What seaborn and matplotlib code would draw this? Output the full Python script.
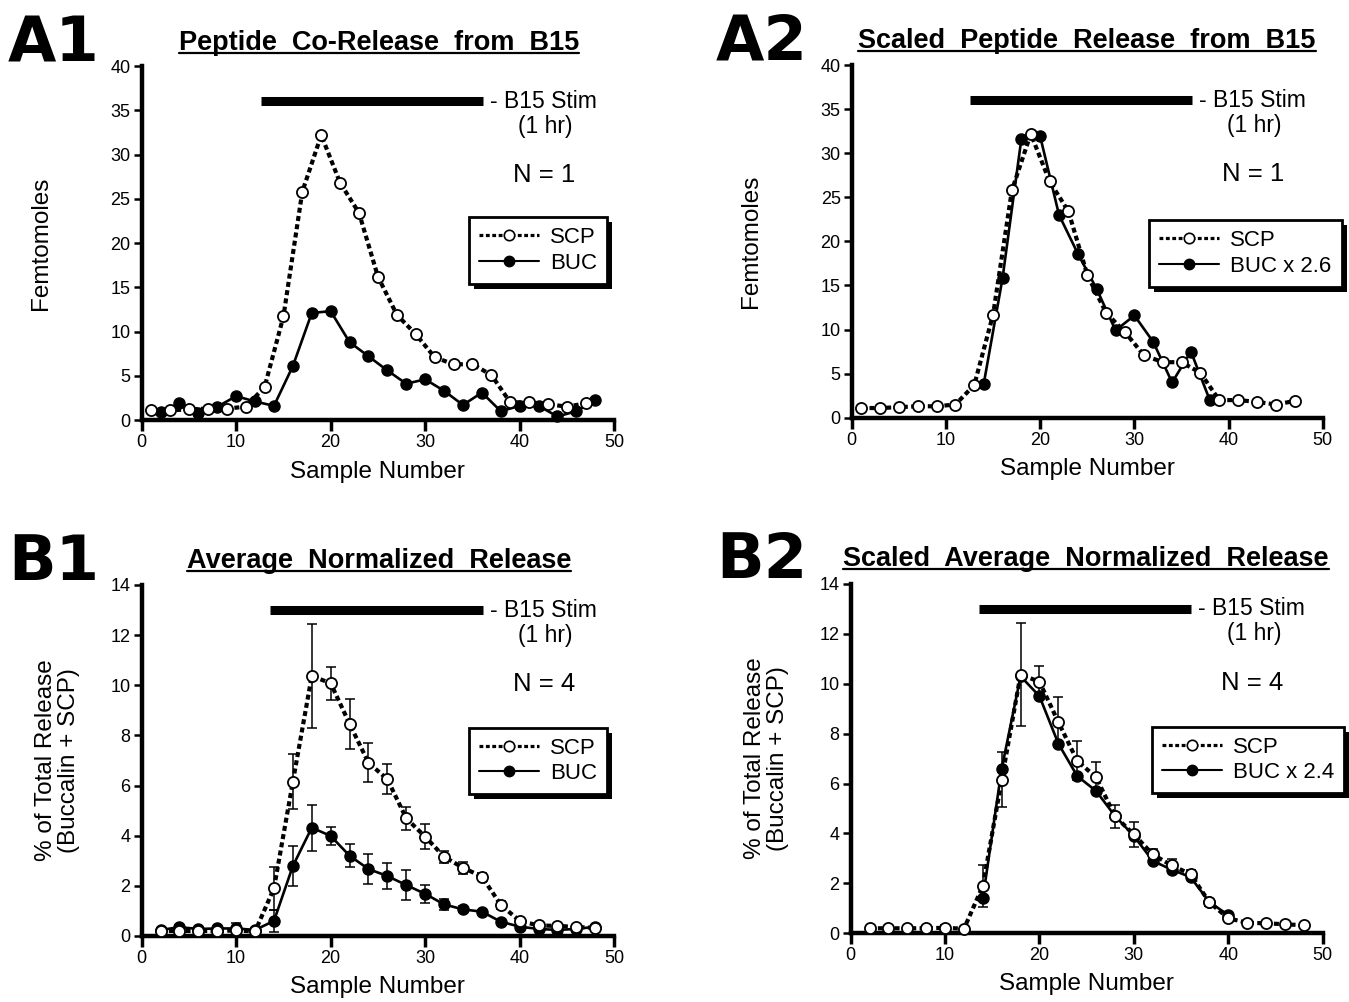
import matplotlib
matplotlib.use("Agg")
import matplotlib.pyplot as plt
import seaborn as sns
from matplotlib.lines import Line2D
from matplotlib.patches import Rectangle
from matplotlib.transforms import IdentityTransform

# ---- data ----
# panel A: single experiment, SCP on odd samples, BUC on even samples
a_scp_x = [1, 3, 5, 7, 9, 11, 13, 15, 17, 19, 21, 23, 25, 27, 29, 31, 33, 35, 37, 39, 41, 43, 45, 47]
a_scp_y = [1.1, 1.1, 1.2, 1.3, 1.3, 1.5, 3.7, 11.7, 25.8, 32.2, 26.8, 23.4, 16.2, 11.9, 9.7, 7.1,
           6.3, 6.3, 5.1, 2.0, 2.0, 1.8, 1.5, 1.9]
a_buc_x = [2, 4, 6, 8, 10, 12, 14, 16, 18, 20, 22, 24, 26, 28, 30, 32, 34, 36, 38, 40, 42, 44, 46, 48]
a_buc_y = [0.9, 1.9, 0.75, 1.5, 2.7, 2.1, 1.6, 6.1, 12.1, 12.3, 8.8, 7.2, 5.6, 4.1, 4.6, 3.3,
           1.7, 3.1, 1.0, 1.6, 1.6, 0.4, 1.0, 2.3]
a2_buc_x = [14, 16, 18, 20, 22, 24, 26, 28, 30, 32, 34, 36, 38]
a2_buc_y = [3.8, 15.8, 31.6, 31.9, 23.0, 18.6, 14.6, 9.9, 11.6, 8.6, 4.0, 7.5, 2.0]

# panel B: average of 4, mean +/- sem
b_x = [2, 4, 6, 8, 10, 12, 14, 16, 18, 20, 22, 24, 26, 28, 30, 32, 34, 36, 38, 40, 42, 44, 46, 48]
b_scp_y = [0.2, 0.2, 0.2, 0.2, 0.22, 0.18, 1.9, 6.15, 10.37, 10.08, 8.46, 6.91, 6.25, 4.69, 3.96,
           3.16, 2.72, 2.37, 1.24, 0.6, 0.42, 0.4, 0.36, 0.32]
b_scp_err = [0.05, 0.05, 0.05, 0.05, 0.1, 0.05, 0.85, 1.1, 2.08, 0.65, 1.0, 0.78, 0.6, 0.47, 0.5,
             0.23, 0.25, 0.15, 0.15, 0.1, 0.05, 0.05, 0.05, 0.05]
b_buc_y = [0.24, 0.35, 0.28, 0.3, 0.3, 0.24, 0.6, 2.79, 4.32, 3.99, 3.2, 2.67, 2.39, 2.03, 1.68,
           1.26, 1.06, 0.97, 0.57, 0.37, 0.28, 0.24, 0.28, 0.37]
b_buc_err = [0.05, 0.1, 0.05, 0.05, 0.2, 0.05, 0.45, 0.8, 0.92, 0.37, 0.46, 0.6, 0.53, 0.6, 0.37,
             0.22, 0.12, 0.08, 0.08, 0.05, 0.03, 0.03, 0.03, 0.03]
b2_buc_x = [14, 16, 18, 20, 22, 24, 26, 28, 30, 32, 34, 36, 38, 40]
b2_buc_y = [1.4, 6.6, 10.3, 9.5, 7.6, 6.3, 5.7, 4.7, 3.9, 2.9, 2.55, 2.25, 1.25, 0.73]

# stimulation bars (sample range, height)
stim_a = [12.6, 36.1]
stim_a_y = 36.0
stim_b = [13.6, 36.1]
stim_b_y = 13.0

sns.set_theme(style="ticks")
plt.rcParams["font.family"] = ["Liberation Sans", "DejaVu Sans"]
plt.rcParams["text.color"] = "black"
plt.rcParams["axes.labelcolor"] = "black"
plt.rcParams["xtick.color"] = "black"
plt.rcParams["ytick.color"] = "black"

fig = plt.figure(figsize=(13.49, 10.02), dpi=100)

SCP_LS = (0, (1.2, 0.8))


def scp_handle():
    return Line2D([], [], color="black", lw=2.3, ls=SCP_LS, marker="o", ms=7.5,
                  mfc="white", mec="black", mew=1.2)


def buc_handle():
    return Line2D([], [], color="black", lw=1.5, marker="o", ms=7.5,
                  mfc="black", mec="black")


def setup_axes(rect, ymax, ystep, ylabel):
    ax = fig.add_axes(rect)
    ax.set_facecolor("none")
    ax.set_xlim(0, 50)
    ax.set_ylim(0, ymax)
    ax.set_xticks([0, 10, 20, 30, 40, 50])
    ax.set_yticks(list(range(0, ymax + 1, ystep)))
    sns.despine(ax=ax)
    for s in ["left", "bottom"]:
        ax.spines[s].set_linewidth(3.2)
        ax.spines[s].set_color("black")
    ax.tick_params(axis="x", length=8, width=2.5, labelsize=13, pad=2)
    ax.tick_params(axis="y", length=6, width=1.8, labelsize=13, pad=2)
    ax.set_xlabel("Sample Number", fontsize=17.5)
    ax.xaxis.set_label_coords(0.5, -0.115)
    ax.set_ylabel(ylabel, fontsize=17.5, linespacing=1.05)
    return ax


def draw_series(ax, x, y, scp=True, err=None):
    if err is not None:
        ax.errorbar(x, y, yerr=err, fmt="none", ecolor="black", elinewidth=1.1,
                    capsize=3.5, capthick=1.1, zorder=1, clip_on=False)
    if scp:
        sns.lineplot(x=x, y=y, ax=ax, color="black", lw=3, ls=SCP_LS, marker="o", ms=8,
                     mfc="white", mec="black", mew=1.3, zorder=4, clip_on=False,
                     errorbar=None, legend=False)
    else:
        sns.lineplot(x=x, y=y, ax=ax, color="black", lw=1.9, marker="o", ms=8,
                     mfc="black", mec="black", mew=1.0, zorder=3, clip_on=False,
                     errorbar=None, legend=False)


def stim_and_text(ax, stim, stim_y, n_text):
    ax.plot(stim, [stim_y, stim_y], color="black", lw=6.5, solid_capstyle="butt", zorder=2)
    ax.annotate("- B15 Stim", xy=(stim[1], stim_y), xytext=(5, 0), textcoords="offset points",
                ha="left", va="center", fontsize=16.5)
    ax.annotate("(1 hr)", xy=(stim[1], stim_y), xytext=(45, -18), textcoords="offset points",
                ha="center", va="center", fontsize=16.5)
    ax.annotate(n_text, xy=(stim[1], stim_y), xytext=(44, -53), textcoords="offset points",
                ha="center", va="center", fontsize=18.5)


def add_legend(ax, labels, anchor):
    leg = ax.legend([scp_handle(), buc_handle()], labels, loc="upper right",
                    bbox_to_anchor=anchor, frameon=True, fancybox=False, framealpha=1,
                    edgecolor="black", fontsize=16, handlelength=2.7, handletextpad=0.5,
                    borderpad=0.45, labelspacing=0.2, borderaxespad=0)
    leg.get_frame().set_linewidth(2)
    leg.set_zorder(6)
    return leg


ax_a1 = setup_axes([0.105, 0.5808, 0.3503, 0.3533], 40, 5, "Femtomoles")
ax_a2 = setup_axes([0.6314, 0.5831, 0.3492, 0.3520], 40, 5, "Femtomoles")
ax_b1 = setup_axes([0.105, 0.0659, 0.3503, 0.3503], 14, 2, "% of Total Release\n(Buccalin + SCP)")
ax_b2 = setup_axes([0.6306, 0.0686, 0.3499, 0.3486], 14, 2, "% of Total Release\n(Buccalin + SCP)")

ax_a1.yaxis.set_label_coords(-0.19, 0.5)
ax_a2.yaxis.set_label_coords(-0.19, 0.5)
ax_b1.yaxis.set_label_coords(-0.13, 0.5)
ax_b2.yaxis.set_label_coords(-0.13, 0.5)

# A1
draw_series(ax_a1, a_buc_x, a_buc_y, scp=False)
draw_series(ax_a1, a_scp_x, a_scp_y, scp=True)
stim_and_text(ax_a1, stim_a, stim_a_y, "N = 1")
legs = [add_legend(ax_a1, ["SCP", "BUC"], (0.985, 0.573))]

# A2
draw_series(ax_a2, a2_buc_x, a2_buc_y, scp=False)
draw_series(ax_a2, a_scp_x, a_scp_y, scp=True)
stim_and_text(ax_a2, stim_a, stim_a_y, "N = 1")
legs.append(add_legend(ax_a2, ["SCP", "BUC x 2.6"], (1.04, 0.56)))

# B1
draw_series(ax_b1, b_x, b_buc_y, scp=False, err=b_buc_err)
draw_series(ax_b1, b_x, b_scp_y, scp=True, err=b_scp_err)
stim_and_text(ax_b1, stim_b, stim_b_y, "N = 4")
legs.append(add_legend(ax_b1, ["SCP", "BUC"], (0.985, 0.593)))

# B2
draw_series(ax_b2, b2_buc_x, b2_buc_y, scp=False)
draw_series(ax_b2, b_x, b_scp_y, scp=True, err=b_scp_err)
stim_and_text(ax_b2, stim_b, stim_b_y, "N = 4")
legs.append(add_legend(ax_b2, ["SCP", "BUC x 2.4"], (1.045, 0.591)))

# panel letters
H = 1002.0
W = 1349.0
for lab, px, py in [("A1", 8, 62), ("A2", 716, 60), ("B1", 8, 580), ("B2", 716, 578)]:
    fig.text(px / W, 1 - py / H, lab, fontsize=45, fontweight="bold", ha="left", va="baseline",
             family=["DejaVu Sans"])

# underlined titles
titles = []
for txt, cx, by in [("Peptide  Co-Release  from  B15", 379, 50),
                    ("Scaled  Peptide  Release  from  B15", 1087, 48),
                    ("Average  Normalized  Release", 379, 568),
                    ("Scaled  Average  Normalized  Release", 1086, 566)]:
    t = fig.text(cx / W, 1 - by / H, txt, fontsize=19.5, fontweight="bold", ha="center", va="baseline")
    titles.append((t, by))

fig.canvas.draw()
renderer = fig.canvas.get_renderer()
for t, by in titles:
    bb = t.get_window_extent(renderer)
    yline = H - by - 3
    fig.add_artist(Line2D([bb.x0, bb.x1], [yline, yline], transform=IdentityTransform(),
                          color="black", lw=1.6))

# drop shadows behind legend boxes
for leg in legs:
    bb = leg.get_window_extent(renderer)
    ax = leg.axes
    ax.add_patch(Rectangle((bb.x0 + 5, bb.y0 - 5), bb.width, bb.height, transform=IdentityTransform(),
                           facecolor="black", edgecolor="none", zorder=5.5, clip_on=False))

fig.savefig("out.png", dpi=100)
